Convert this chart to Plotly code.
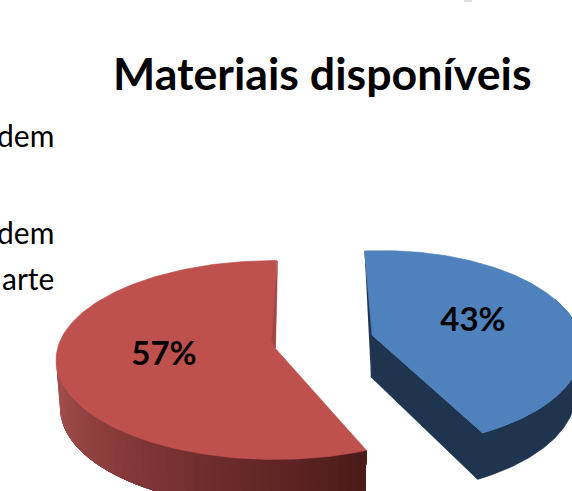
import numpy as np
import plotly.graph_objects as go

TITLE = "Materiais disponíveis"
SHARES = [43, 57]            # blue, red
LEGEND_TEXT = ["dem", "dem", "arte"]

W, H = 572, 491
FONT = "Lato, Carlito, Calibri, sans-serif"


def arc(cx, cy, rx, ry, t0, t1, n=120):
    t = np.radians(np.linspace(t0, t1, n))
    return cx + rx * np.cos(t), cy - ry * np.sin(t)


def poly(x, y, color, lw=0.6):
    return go.Scatter(x=list(x), y=list(y), mode="lines", fill="toself", fillcolor=color,
                      line=dict(color=color, width=lw), hoverinfo="skip", showlegend=False)


def lerp_color(stops, f):
    pos = [s[0] for s in stops]
    rgb = [np.interp(f, pos, [s[1][i] for s in stops]) for i in range(3)]
    return "rgb(%d,%d,%d)" % tuple(int(round(v)) for v in rgb)


sweep = [v / sum(SHARES) * 360 for v in SHARES]
fig = go.Figure()

# ---- red slice ----
R_TOP = (275, 360, 219, 99.5)
R_BOT = (275, 408, 215, 100)
r_start = 89.5
r_end = r_start + sweep[1]
wall_stops = [(0, (165, 82, 80)), (0.15, (155, 74, 72)), (0.5, (125, 52, 52)), (1, (76, 27, 26))]
edges = np.linspace(178, r_end, 46)
for i in range(len(edges) - 1):
    a = edges[i]
    xt, yt = arc(*R_TOP, a, r_end, 60)
    xb, yb = arc(*R_BOT, r_end, a, 60)
    fig.add_trace(poly(np.r_[xt, xb], np.r_[yt, yb], lerp_color(wall_stops, i / (len(edges) - 2)), 0))
xa, ya = arc(*R_TOP, r_start, r_end, 200)
fig.add_trace(poly(np.r_[275, xa, 275], np.r_[348, ya, 348], "#BE504D"))
fig.add_trace(poly([277.5, 275.5, 271.5], [261, 348, 340], "#A04644"))

# ---- blue slice ----
B_TOP = (382, 348.4, 200, 97.8)
B_BOT = (378, 393, 198, 100)
b_start = 95
b_end = b_start - sweep[0]
DARK = "#1F344F"
xt, yt = arc(*B_TOP, b_end, 30, 100)
xb, yb = arc(*B_BOT, 30, b_end, 100)
fig.add_trace(poly(np.r_[372, xt, xb, 371], np.r_[335, yt, yb, 377], DARK))
xs, ys = arc(*B_TOP, b_start, b_start, 1)
fig.add_trace(poly([xs[0], 373, 371], [ys[0], 335, 377], DARK))
xa, ya = arc(*B_TOP, b_start, b_end, 200)
fig.add_trace(poly(np.r_[372, xa, 372], np.r_[335, ya, 335], "#4F81BD"))

# ---- value labels ----
fig.add_trace(go.Scatter(
    x=[473, 164], y=[323, 357], mode="text",
    text=[f"{v}%" for v in SHARES],
    textposition="middle center",
    textfont=dict(family=FONT, size=33, color="#000000", weight="bold"),
    hoverinfo="skip", showlegend=False))

fig.add_annotation(x=322, y=73, xref="x", yref="y", text=f"<b>{TITLE}</b>", showarrow=False,
                   xanchor="center", yanchor="middle",
                   font=dict(family=FONT, size=44.7, color="#000000"))
for txt, yy in zip(LEGEND_TEXT, [135, 232, 278]):
    fig.add_annotation(x=55.5, y=yy, xref="x", yref="y", text=txt, showarrow=False,
                       xanchor="right", yanchor="middle",
                       font=dict(family=FONT, size=30, color="#000000"))

fig.add_shape(type="rect", x0=464, x1=472, y0=0, y1=2, fillcolor="#DDDDDD", line_width=0, layer="below")

fig.update_layout(
    width=W, height=H, margin=dict(l=0, r=0, t=0, b=0),
    paper_bgcolor="white", plot_bgcolor="white", showlegend=False,
    xaxis=dict(range=[0, W], visible=False, fixedrange=True),
    yaxis=dict(range=[H, 0], visible=False, fixedrange=True),
)
fig.write_html("out.html", config=dict(displayModeBar=False),
               post_script="document.body.style.margin='0';document.body.style.overflow='hidden';")
